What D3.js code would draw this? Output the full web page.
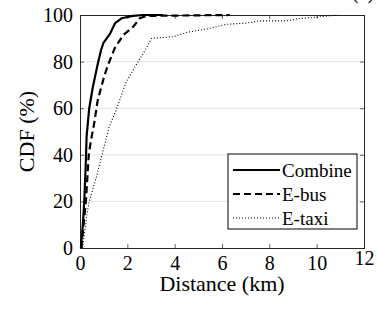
<!DOCTYPE html>
<html lang="en">
<head>
<meta charset="utf-8">
<script src="https://d3js.org/d3.v7.min.js"></script>
<style>
  body { margin: 0; background: #fff; }
  svg text { fill: #000; }
</style>
</head>
<body>
<script>

var width = 378,
    height = 310;

var margin = {top: 15, right: 14, bottom: 62, left: 80};

// CDF curves, distance in km vs percent
var combineKm  = [0.04, 0.12, 0.18, 0.24, 0.28, 0.39, 0.54, 0.75, 0.89, 0.99, 1.27, 1.48, 1.76, 2.24, 2.66, 3.50];
var combinePct = [0,    10,   20,   35,   48,   60,   69,   79,   85,   88,   92,   96.5, 98.6, 99.6, 100,  100];

var ebusKm  = [0.06, 0.15, 0.25, 0.37, 0.46, 0.60, 0.75, 1.03, 1.20, 1.48, 1.83, 2.25, 2.53, 2.80, 3.50, 6.33];
var ebusPct = [0,    10,   20,   40,   46,   53.6, 63.5, 74,   79,   86,   91.4, 95,   98.6, 99.6, 99.7, 100];

var etaxiKm  = [0.10, 0.20, 0.30, 0.39, 0.68, 0.93, 1.23, 1.52, 1.94, 2.37, 2.67, 3.03, 3.93, 4.50, 5.35, 6.20, 7.00, 7.60, 8.70, 9.30, 9.90, 10.90];
var etaxiPct = [0,    7,    15,   20,   30,   40,   52,   59,   71,   78.5, 83.5, 90,   90.7, 92.5, 94,   96,   96.5, 97.5, 97.5, 98.5, 99,   100];

var xTicks = [0, 2, 4, 6, 8, 10, 12];
var yTicks = [0, 20, 40, 60, 80, 100];
var legendNames = ["Combine", "E-bus", "E-taxi"];

var serif = "'Liberation Serif', 'Times New Roman', Times, serif";

var svg = d3.select("body").append("svg")
    .attr("width", width)
    .attr("height", height);

var x = d3.scaleLinear()
    .domain([0, 12])
    .range([margin.left, width - margin.right]);

var y = d3.scaleLinear()
    .domain([0, 100])
    .range([height - margin.bottom, margin.top]);

// clipped panel label at the very top
svg.append("text")
    .attr("x", 352)
    .attr("y", -1)
    .style("font-family", serif)
    .style("font-size", "20px")
    .text("(c)");

// grid
svg.append("g")
    .selectAll("line")
    .data(yTicks.slice(1, -1))
    .enter().append("line")
    .attr("x1", x(0))
    .attr("x2", x(12))
    .attr("y1", function(d) { return y(d); })
    .attr("y2", function(d) { return y(d); })
    .attr("stroke", "#e3e3e3")
    .attr("stroke-width", 1);

// axes, ticks inward
var axisColor = "#262626";

var gx = svg.append("g")
    .attr("transform", "translate(0," + y(0) + ")")
    .call(d3.axisBottom(x).tickValues(xTicks).tickSize(-4).tickPadding(8));
var gxTop = svg.append("g")
    .attr("transform", "translate(0," + y(100) + ")")
    .call(d3.axisTop(x).tickValues(xTicks).tickSize(-4).tickFormat(""));
var gy = svg.append("g")
    .attr("transform", "translate(" + x(0) + ",0)")
    .call(d3.axisLeft(y).tickValues(yTicks).tickSize(-4).tickPadding(7));
var gyRight = svg.append("g")
    .attr("transform", "translate(" + x(12) + ",0)")
    .call(d3.axisRight(y).tickValues(yTicks).tickSize(-4).tickFormat(""));

[gx, gxTop, gy, gyRight].forEach(function(g) {
  g.attr("font-family", null).attr("font-size", null);
  g.selectAll(".domain").attr("stroke", axisColor).attr("stroke-width", 1);
  g.selectAll(".tick line").attr("stroke", axisColor).attr("stroke-width", 0.7);
  g.selectAll(".tick text")
    .style("font-family", serif)
    .style("font-size", "20px")
    .attr("fill", "#000");
});
// the "12" sits a little higher in the original
gx.selectAll(".tick text").filter(function(d) { return d === 12; }).attr("dy", "0.46em");

// axis titles
svg.append("text")
    .attr("x", (x(0) + x(12)) / 2)
    .attr("y", 291)
    .attr("text-anchor", "middle")
    .style("font-family", serif)
    .style("font-size", "22px")
    .text("Distance (km)");

svg.append("text")
    .attr("transform", "translate(34," + ((y(0) + y(100)) / 2) + ") rotate(-90)")
    .attr("text-anchor", "middle")
    .style("font-family", serif)
    .style("font-size", "22px")
    .text("CDF (%)");

// curves
var line = d3.line()
    .x(function(d) { return x(d[0]); })
    .y(function(d) { return y(d[1]); });

var styles = [
  {w: 2.2, dash: null},
  {w: 2.2, dash: "7,4"},
  {w: 1.1, dash: "1,2"}
];

var series = [
  d3.zip(combineKm, combinePct),
  d3.zip(ebusKm, ebusPct),
  d3.zip(etaxiKm, etaxiPct)
];

svg.append("g")
    .selectAll("path")
    .data(series)
    .enter().append("path")
    .attr("d", line)
    .attr("fill", "none")
    .attr("stroke", "#000")
    .attr("stroke-width", function(d, i) { return styles[i].w; })
    .attr("stroke-dasharray", function(d, i) { return styles[i].dash; });

// legend
var lg = svg.append("g").attr("transform", "translate(228,154)");

lg.append("rect")
    .attr("width", 129)
    .attr("height", 75)
    .attr("fill", "#fff")
    .attr("stroke", "#000")
    .attr("stroke-width", 1);

var item = lg.selectAll(".item")
    .data(legendNames)
    .enter().append("g")
    .attr("transform", function(d, i) { return "translate(0," + (16 + i * 24) + ")"; });

item.append("line")
    .attr("x1", 5)
    .attr("x2", 52)
    .attr("stroke", "#000")
    .attr("stroke-width", function(d, i) { return styles[i].w; })
    .attr("stroke-dasharray", function(d, i) { return styles[i].dash; });

item.append("text")
    .attr("x", 54)
    .attr("dy", "0.35em")
    .style("font-family", serif)
    .style("font-size", "19px")
    .text(function(d) { return d; });

</script>
</body>
</html>
